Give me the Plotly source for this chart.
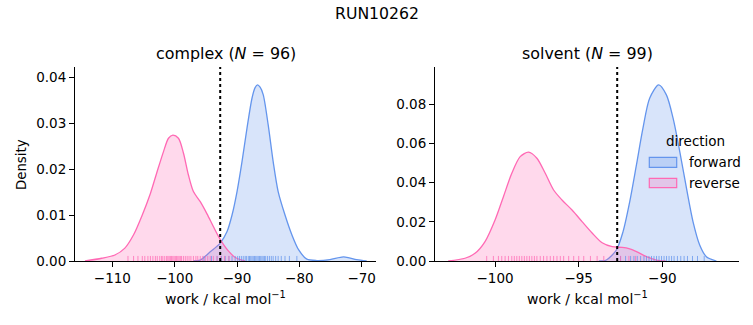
import plotly.graph_objects as go

# ---------------- data ----------------
title_text = "RUN10262"
panels = ["complex", "solvent"]
panel_n = [96, 99]
directions = ["forward", "reverse"]
dotted_work = [-92.7, -92.7]

# complex panel KDE curves (work, density)
cx_fwd_x = [-97.0, -95.9, -94.3, -92.7, -91.6, -90.8, -90.0, -89.2, -88.4, -87.6, -87.1, -86.7,
            -86.3, -85.8, -85.0, -84.2, -83.4, -82.3, -81.2, -80.1, -78.8, -77.2, -75.1, -72.9,
            -70.8, -69.2]
cx_fwd_y = [0.0, 0.0002, 0.0020, 0.0039, 0.0064, 0.0100, 0.0151, 0.0216, 0.0289, 0.0354, 0.0377,
            0.0383, 0.0378, 0.0362, 0.0296, 0.0216, 0.0151, 0.0100, 0.0057, 0.0024, 0.0004, 0.0001,
            0.0003, 0.0009, 0.0003, 0.0]
cx_rev_x = [-114.4, -111.7, -109.6, -108.0, -106.6, -105.3, -103.9, -102.9, -101.8, -101.0, -100.3,
            -99.4, -98.6, -97.8, -97.0, -95.9, -94.8, -93.8, -92.7, -91.4, -90.2, -88.7]
cx_rev_y = [0.0, 0.0006, 0.0013, 0.0028, 0.0057, 0.0097, 0.0147, 0.0191, 0.0238, 0.0267, 0.0274,
            0.0267, 0.0235, 0.0187, 0.0151, 0.0129, 0.0102, 0.0075, 0.0047, 0.0022, 0.0007, 0.0]

# solvent panel KDE curves
sv_fwd_x = [-93.8, -93.35, -92.75, -92.35, -91.95, -91.55, -91.16, -90.76, -90.22, -89.76, -89.36,
            -88.96, -88.56, -88.17, -87.77, -87.37, -86.77]
sv_fwd_y = [0.0, 0.0005, 0.0056, 0.0150, 0.0303, 0.0490, 0.0677, 0.0830, 0.0898, 0.0847, 0.0728,
            0.0558, 0.0371, 0.0201, 0.0082, 0.0022, 0.0]
sv_rev_x = [-102.8, -101.8, -101.2, -100.6, -100.0, -99.5, -99.0, -98.5, -98.0, -97.5, -97.0, -96.5,
            -96.0, -95.4, -94.8, -94.2, -93.6, -93.0, -92.4, -92.0, -91.55, -90.95, -90.36, -89.8]
sv_rev_y = [0.0, 0.0014, 0.0039, 0.0099, 0.0209, 0.0328, 0.0447, 0.0532, 0.0555, 0.0524, 0.0447,
            0.0362, 0.0311, 0.0260, 0.0201, 0.0143, 0.0093, 0.0073, 0.0069, 0.0063, 0.0048, 0.0022,
            0.0005, 0.0]

# rug samples (work values, estimated)
cx_fwd_rug = [-95.3, -94.1, -93.2, -92.5, -91.9, -91.3, -90.8, -90.3, -89.9, -89.6, -89.3, -89.0,
              -88.7, -88.5, -88.2, -88.0, -87.8, -87.6, -87.4, -87.2, -87.0, -86.8, -86.6, -86.4,
              -86.2, -86.0, -85.8, -85.6, -85.4, -85.1, -84.8, -84.5, -84.2, -83.8, -83.4, -82.9,
              -82.3, -81.6, -80.4]
cx_rev_rug = [-107.5, -106.6, -105.9, -105.2, -104.8, -104.3, -103.9, -103.5, -103.1, -102.8, -102.4,
              -102.1, -101.9, -101.6, -101.3, -101.1, -100.9, -100.7, -100.5, -100.3, -100.1, -99.9,
              -99.7, -99.5, -99.3, -99.1, -98.9, -98.6, -98.3, -98.0, -97.7, -97.4, -97.0, -96.6,
              -96.3, -95.9, -95.5, -95.1, -94.7, -94.3, -93.8, -93.2, -92.6, -92.0, -91.3]
sv_fwd_rug = [-92.5, -92.2, -91.9, -91.7, -91.5, -91.3, -91.1, -90.95, -90.8, -90.65, -90.5, -90.35,
              -90.2, -90.05, -89.9, -89.75, -89.6, -89.45, -89.3, -89.1, -88.9, -88.7, -88.5, -88.2,
              -87.9, -87.5]
sv_rev_rug = [-100.5, -100.1, -99.8, -99.6, -99.4, -99.2, -99.0, -98.85, -98.7, -98.55, -98.4, -98.25,
              -98.1, -97.95, -97.8, -97.65, -97.5, -97.3, -97.1, -96.9, -96.7, -96.5, -96.3, -96.1,
              -95.9, -95.6, -95.3, -95.0, -94.7, -94.3, -93.9, -93.5, -92.5, -92.0, -91.6]

cx_yticks = [0.00, 0.01, 0.02, 0.03, 0.04]
sv_yticks = [0.00, 0.02, 0.04, 0.06, 0.08]
cx_xticks = [-110, -100, -90, -80, -70]
sv_xticks = [-100, -95, -90]

# ---------------- styling ----------------
W, H = 753, 325
FONT = "DejaVu Sans"
BLUE, PINK = "#6495ED", "#FF69B4"
BLUE_F, PINK_F = "rgba(100,149,237,0.25)", "rgba(255,105,180,0.25)"

def px(x):
    return x / W

def py(y):
    return 1 - y / H

fig = go.Figure()

curves = [
    ("x", "y", cx_fwd_x, cx_fwd_y, BLUE, BLUE_F),
    ("x", "y", cx_rev_x, cx_rev_y, PINK, PINK_F),
    ("x2", "y2", sv_fwd_x, sv_fwd_y, BLUE, BLUE_F),
    ("x2", "y2", sv_rev_x, sv_rev_y, PINK, PINK_F),
]
for xa, ya, xs, ys, lc, fc in curves:
    fig.add_trace(go.Scatter(x=xs, y=ys, xaxis=xa, yaxis=ya, mode="lines",
                             line=dict(color=lc, width=1.3, shape="spline", smoothing=0.8),
                             fill="tozeroy", fillcolor=fc, showlegend=False, hoverinfo="skip"))

shapes = []
rugs = [("x", "y", cx_fwd_rug, BLUE), ("x", "y", cx_rev_rug, PINK),
        ("x2", "y2", sv_fwd_rug, BLUE), ("x2", "y2", sv_rev_rug, PINK)]
for xa, ya, vals, col in rugs:
    for v in vals:
        shapes.append(dict(type="line", xref=xa, yref=ya + " domain", x0=v, x1=v, y0=0, y1=0.026,
                           line=dict(color=col, width=1), opacity=0.75, layer="above"))

for i, xa in enumerate(["x", "x2"]):
    ya = "y" if i == 0 else "y2"
    shapes.append(dict(type="line", xref=xa, yref=ya + " domain", x0=dotted_work[i], x1=dotted_work[i],
                       y0=0, y1=1, line=dict(color="black", width=2, dash="dot"), layer="above"))

# legend patches (transparent, seaborn style)
shapes.append(dict(type="rect", xref="paper", yref="paper", x0=px(649.3), x1=px(676.7),
                   y0=py(167.3), y1=py(157.3), fillcolor=BLUE_F, line=dict(color=BLUE, width=1.2),
                   layer="above"))
shapes.append(dict(type="rect", xref="paper", yref="paper", x0=px(649.3), x1=px(676.7),
                   y0=py(187.7), y1=py(178.3), fillcolor=PINK_F, line=dict(color=PINK, width=1.2),
                   layer="above"))

ax_common = dict(showline=True, linecolor="black", linewidth=1, ticks="outside", ticklen=5,
                 tickwidth=1, tickcolor="black", showgrid=False, zeroline=False,
                 tickfont=dict(family=FONT, size=13.5, color="black"), automargin=False)

fig.update_layout(
    width=W, height=H, margin=dict(l=0, r=0, t=0, b=0),
    paper_bgcolor="white", plot_bgcolor="white", showlegend=False,
    xaxis=dict(domain=[px(75), px(376)], range=[-116.0, -67.7], tickvals=cx_xticks, anchor="y",
               **ax_common),
    yaxis=dict(domain=[py(261), py(67)], range=[0, 0.0422], tickvals=cx_yticks, tickformat=".2f",
               anchor="x", **ax_common),
    xaxis2=dict(domain=[px(435), px(739)], range=[-103.59, -85.42], tickvals=sv_xticks, anchor="y2",
                **ax_common),
    yaxis2=dict(domain=[py(261), py(67)], range=[0, 0.0989], tickvals=sv_yticks, tickformat=".2f",
                anchor="x2", **ax_common),
    shapes=shapes,
)

ann = []
ann.append(dict(text=title_text, x=px(377), y=py(13), xref="paper", yref="paper", showarrow=False,
                font=dict(family=FONT, size=15.7, color="black"), xanchor="center", yanchor="middle"))
for i, name in enumerate(panels):
    cx = (75 + 376) / 2 if i == 0 else (435 + 739) / 2
    ann.append(dict(text=f"{name} (<i>N</i> = {panel_n[i]})", x=px(cx), y=py(54), xref="paper",
                    yref="paper", showarrow=False, font=dict(family=FONT, size=15.9, color="black"),
                    xanchor="center", yanchor="middle"))
    ann.append(dict(text="work / kcal mol<sup>−1</sup>", x=px(cx), y=py(298), xref="paper",
                    yref="paper", showarrow=False, font=dict(family=FONT, size=14, color="black"),
                    xanchor="center", yanchor="middle"))
ann.append(dict(text="Density", x=px(21), y=py(165), xref="paper", yref="paper", showarrow=False,
                textangle=-90, font=dict(family=FONT, size=13.3, color="black"),
                xanchor="center", yanchor="middle"))
ann.append(dict(text="direction", x=px(695), y=py(141), xref="paper", yref="paper", showarrow=False,
                font=dict(family=FONT, size=13.5, color="black"), xanchor="center", yanchor="middle"))
for lbl, yy in zip(directions, [161.5, 182.5]):
    ann.append(dict(text=lbl, x=px(687), y=py(yy), xref="paper", yref="paper", showarrow=False,
                    font=dict(family=FONT, size=13.5, color="black"), xanchor="left",
                    yanchor="middle"))
fig.update_layout(annotations=ann)

fig.write_html("out.html")
